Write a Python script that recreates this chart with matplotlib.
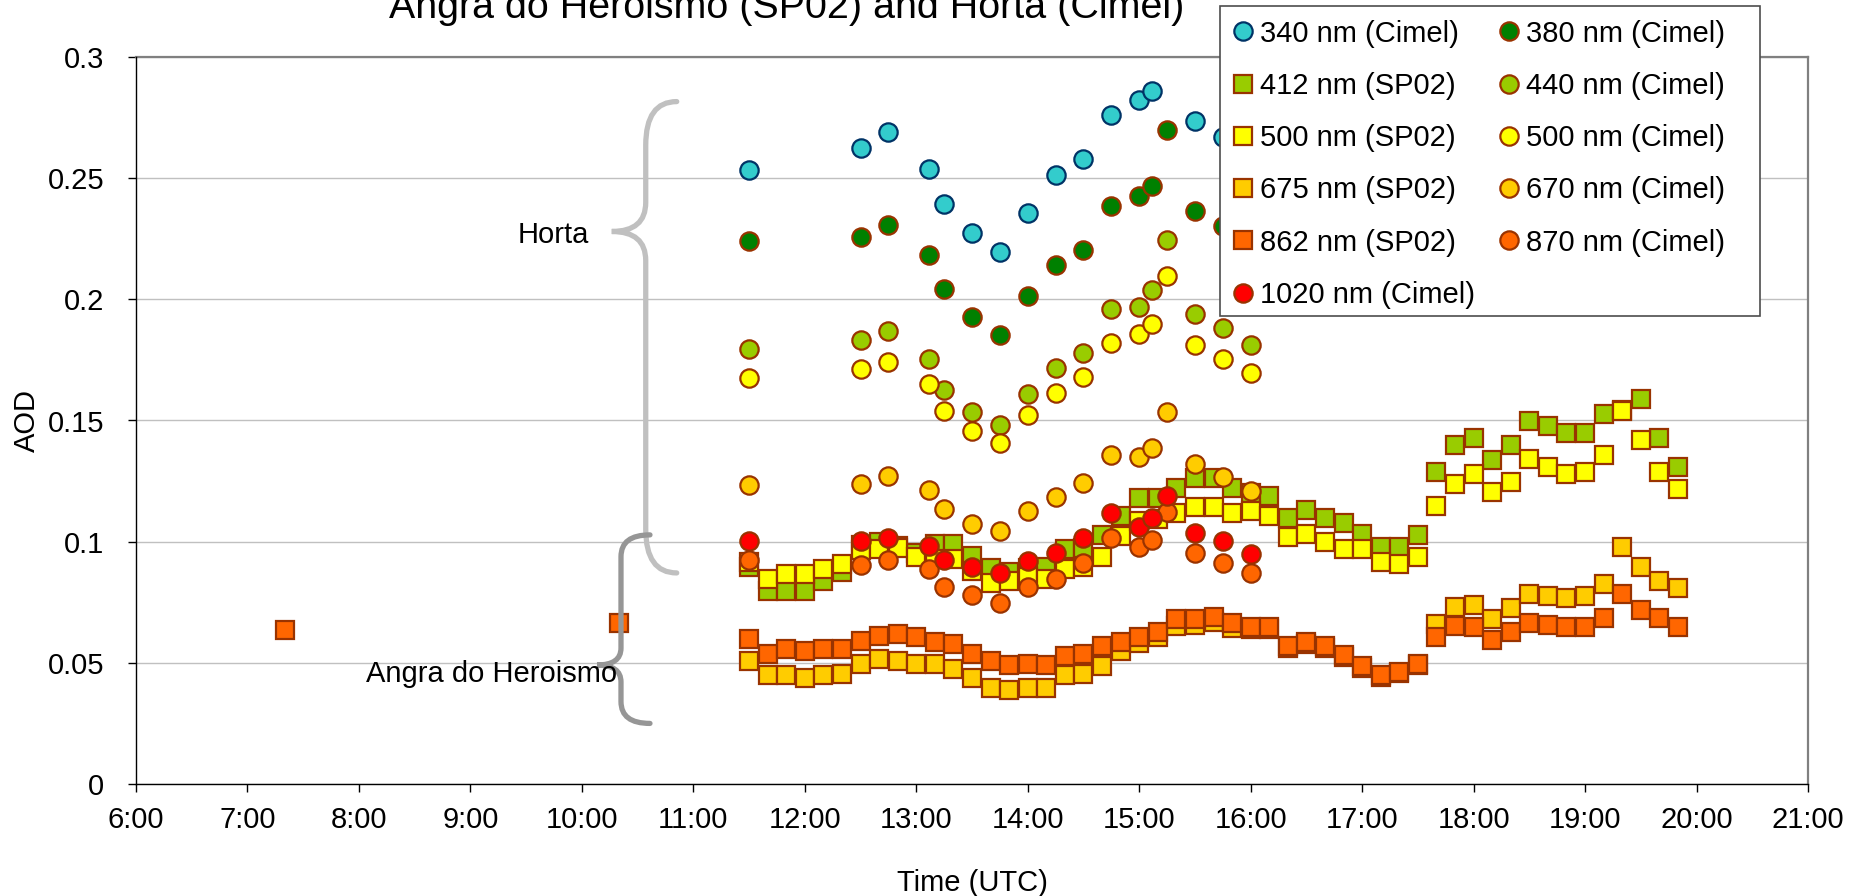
import numpy as np
import matplotlib.pyplot as plt
from matplotlib.path import Path
from matplotlib.patches import PathPatch, Rectangle

plt.rcParams['font.family'] = ['Liberation Sans', 'DejaVu Sans']

nan = np.nan

# Cimel (Horta) measurement times and AOD per wavelength
cimel_times = ["11:30", "12:30", "12:45", "13:07", "13:15", "13:30", "13:45", "14:00", "14:15",
               "14:30", "14:45", "15:00", "15:07", "15:15", "15:30", "15:45", "16:00"]
aod_340 = [0.2535, 0.2626, 0.2692, 0.2539, 0.2394, 0.2274, 0.2197, 0.2358, 0.2513,
           0.2578, 0.2761, 0.2823, 0.2861, nan, 0.2736, 0.2671, nan]
aod_380 = [0.2242, 0.2257, 0.2306, 0.2184, 0.2042, 0.1927, 0.1854, 0.2014, 0.2143,
           0.2204, 0.2387, 0.2428, 0.2469, 0.2699, 0.2365, 0.2304, nan]
aod_440 = [0.1795, 0.1831, 0.1869, 0.1753, 0.1626, 0.1534, 0.1482, 0.1610, 0.1716,
           0.1778, 0.1959, 0.1970, 0.2039, 0.2244, 0.1938, 0.1883, 0.1812]
aod_500c = [0.1674, 0.1714, 0.1740, 0.1649, 0.1539, 0.1456, 0.1406, 0.1522, 0.1615,
            0.1680, 0.1819, 0.1857, 0.1897, 0.2097, 0.1812, 0.1755, 0.1695]
aod_670 = [0.1234, 0.1238, 0.1271, 0.1212, 0.1134, 0.1073, 0.1045, 0.1127, 0.1186,
           0.1244, 0.1358, 0.1348, 0.1385, 0.1534, 0.1319, 0.1268, 0.1211]
aod_870 = [0.0924, 0.0904, 0.0924, 0.0886, 0.0814, 0.0779, 0.0748, 0.0812, 0.0845,
           0.0911, 0.1014, 0.0979, 0.1007, 0.1124, 0.0955, 0.0913, 0.0870]
aod_1020 = [0.1004, 0.1002, 0.1015, 0.0982, 0.0924, 0.0897, 0.0870, 0.0922, 0.0952,
            0.1014, 0.1117, 0.1062, 0.1096, 0.1189, 0.1035, 0.1004, 0.0949]

# SP02 (Angra do Heroismo) measurement times and AOD per wavelength
sp02_times = ["7:20", "10:20",
              "11:30", "11:40", "11:50", "12:00", "12:10", "12:20", "12:30", "12:40", "12:50",
              "13:00", "13:10", "13:20", "13:30", "13:40", "13:50", "14:00", "14:10", "14:20",
              "14:30", "14:40", "14:50", "15:00", "15:10", "15:20", "15:30", "15:40", "15:50",
              "16:00", "16:10", "16:20", "16:30", "16:40", "16:50", "17:00", "17:10", "17:20",
              "17:30", "17:40", "17:50", "18:00", "18:10", "18:20", "18:30", "18:40", "18:50",
              "19:00", "19:10", "19:20", "19:30", "19:40", "19:50"]
aod_412 = [nan, nan,
           0.0894, 0.0798, 0.0798, 0.0798, 0.0836, 0.0876, 0.0986, 0.0998, 0.0982,
           0.0954, 0.0989, 0.0989, 0.0941, 0.0893, 0.0875, 0.0893, 0.0896, 0.0969,
           0.0975, 0.1029, 0.1106, 0.1182, 0.1182, 0.1220, 0.1262, 0.1262, 0.1221,
           0.1200, 0.1189, 0.1096, 0.1129, 0.1099, 0.1078, 0.1030, 0.0979, 0.0979,
           0.1029, 0.1286, 0.1398, 0.1428, 0.1337, 0.1398, 0.1498, 0.1478, 0.1450,
           0.1450, 0.1528, 0.1545, 0.1588, 0.1427, 0.1308]
aod_500s = [nan, nan,
            0.0916, 0.0846, 0.0867, 0.0867, 0.0887, 0.0908, 0.0966, 0.0969, 0.0975,
            0.0938, 0.0927, 0.0927, 0.0879, 0.0831, 0.0838, 0.0856, 0.0846, 0.0887,
            0.0894, 0.0935, 0.1024, 0.1085, 0.1092, 0.1120, 0.1142, 0.1142, 0.1120,
            0.1128, 0.1107, 0.1018, 0.1030, 0.1000, 0.0969, 0.0969, 0.0915, 0.0908,
            0.0937, 0.1147, 0.1238, 0.1278, 0.1206, 0.1246, 0.1340, 0.1308, 0.1278,
            0.1286, 0.1356, 0.1539, 0.1418, 0.1286, 0.1219]
aod_675 = [nan, nan,
           0.0508, 0.0449, 0.0449, 0.0439, 0.0449, 0.0455, 0.0497, 0.0515, 0.0508,
           0.0497, 0.0497, 0.0476, 0.0436, 0.0398, 0.0387, 0.0398, 0.0398, 0.0449,
           0.0455, 0.0488, 0.0549, 0.0583, 0.0607, 0.0652, 0.0655, 0.0670, 0.0645,
           0.0640, 0.0640, 0.0560, 0.0578, 0.0560, 0.0525, 0.0480, 0.0443, 0.0456,
           0.0492, 0.0659, 0.0729, 0.0737, 0.0680, 0.0728, 0.0785, 0.0776, 0.0769,
           0.0776, 0.0827, 0.0978, 0.0896, 0.0838, 0.0808]
aod_862 = [0.0636, 0.0666,
           0.0598, 0.0535, 0.0558, 0.0549, 0.0558, 0.0558, 0.0590, 0.0609, 0.0618,
           0.0607, 0.0587, 0.0579, 0.0536, 0.0508, 0.0490, 0.0497, 0.0490, 0.0528,
           0.0538, 0.0568, 0.0587, 0.0607, 0.0627, 0.0680, 0.0680, 0.0689, 0.0666,
           0.0648, 0.0648, 0.0568, 0.0586, 0.0568, 0.0531, 0.0486, 0.0449, 0.0462,
           0.0497, 0.0608, 0.0653, 0.0648, 0.0596, 0.0627, 0.0666, 0.0656, 0.0648,
           0.0648, 0.0686, 0.0785, 0.0717, 0.0686, 0.0648]

hour_ticks = list(range(6, 22))
hour_labels = ["%d:00" % h for h in hour_ticks]
aod_ticks = [0, 0.05, 0.1, 0.15, 0.2, 0.25, 0.3]
aod_labels = ["0", "0.05", "0.1", "0.15", "0.2", "0.25", "0.3"]


def to_hours(t):
    h, m = t.split(":")
    return int(h) + int(m) / 60.0


xc = [to_hours(t) for t in cimel_times]
xs = [to_hours(t) for t in sp02_times]

brown = '#993300'
# series in Excel order: (label, x, y, marker, face, edge)
series = [
    ("340 nm (Cimel)", xc, aod_340, 'o', '#33CCCC', '#003366'),
    ("380 nm (Cimel)", xc, aod_380, 'o', '#008000', brown),
    ("412 nm (SP02)", xs, aod_412, 's', '#99CC00', brown),
    ("440 nm (Cimel)", xc, aod_440, 'o', '#99CC00', brown),
    ("500 nm (SP02)", xs, aod_500s, 's', '#FFFF00', brown),
    ("500 nm (Cimel)", xc, aod_500c, 'o', '#FFFF00', brown),
    ("675 nm (SP02)", xs, aod_675, 's', '#FFCC00', brown),
    ("670 nm (Cimel)", xc, aod_670, 'o', '#FFCC00', brown),
    ("862 nm (SP02)", xs, aod_862, 's', '#FF6600', brown),
    ("870 nm (Cimel)", xc, aod_870, 'o', '#FF6600', brown),
    ("1020 nm (Cimel)", xc, aod_1020, 'o', '#FF0000', brown),
]

fig = plt.figure(figsize=(18.54, 8.96), dpi=100)
ax = fig.add_axes([136 / 1854, 1 - 784 / 896, (1808 - 136) / 1854, (784 - 57) / 896])

handles = []
for k, (lab, x, y, mk, fc, ec) in enumerate(series):
    ms = 13.2 if mk == 'o' else 12.4
    h, = ax.plot(x, y, linestyle='none', marker=mk, markersize=ms, markerfacecolor=fc,
                 markeredgecolor=ec, markeredgewidth=1.6, label=lab, zorder=3 + k * 0.01)
    handles.append(h)

ax.set_xlim(6, 21)
ax.set_ylim(0, 0.3)
ax.set_xticks(hour_ticks)
ax.set_xticklabels(hour_labels)
ax.set_yticks(aod_ticks)
ax.set_yticklabels(aod_labels)
ax.tick_params(axis='both', labelsize=21, direction='out', length=6, width=1, color='black')
ax.tick_params(axis='y', pad=17)
ax.tick_params(axis='x', pad=10)
ax.grid(axis='y', color='#C0C0C0', linewidth=1)
ax.set_axisbelow(True)
for s in ['top', 'right']:
    ax.spines[s].set_color('#808080')
    ax.spines[s].set_linewidth(1.6)
for s in ['left', 'bottom']:
    ax.spines[s].set_color('black')
    ax.spines[s].set_linewidth(1)
    ax.spines[s].set_zorder(5)

ax.set_xlabel("Time (UTC)", fontsize=21, labelpad=25)
ax.set_ylabel("AOD", fontsize=21, labelpad=5)

# title, partly hidden under the legend
ax.text(787 / 1854, 1 - 18 / 896, "Angra do Heroismo (SP02) and Horta (Cimel)", fontsize=28.4,
        ha='center', va='baseline', transform=fig.transFigure, clip_on=False, zorder=1)


def brace(x_end, x_spine, x_tip, y_top, y_mid, y_bot, ry, rt, color):
    verts = [(x_end, y_top),
             (x_spine, y_top), (x_spine, y_top - ry),
             (x_spine, y_mid + rt),
             (x_spine, y_mid), (x_tip, y_mid),
             (x_spine, y_mid), (x_spine, y_mid - rt),
             (x_spine, y_bot + ry),
             (x_spine, y_bot), (x_end, y_bot)]
    codes = [Path.MOVETO, Path.CURVE3, Path.CURVE3, Path.LINETO, Path.CURVE3, Path.CURVE3,
             Path.CURVE3, Path.CURVE3, Path.LINETO, Path.CURVE3, Path.CURVE3]
    ax.add_patch(PathPatch(Path(verts, codes), facecolor='none', edgecolor=color, linewidth=3.8,
                           capstyle='round', zorder=6, clip_on=False))


brace(10.851, 10.573, 10.268, 0.2816, 0.228, 0.0871, 0.018, 0.012, '#C0C0C0')
brace(10.611, 10.351, 10.136, 0.1028, 0.0491, 0.0250, 0.009, 0.007, '#969696')
ax.text(10.067, 0.2231, "Horta", fontsize=21, ha='right', va='baseline', zorder=7)
ax.text(10.312, 0.0422, "Angra do Heroismo", fontsize=21, ha='right', va='baseline', zorder=7)

# legend box drawn separately so it matches the Excel frame
ax.add_patch(Rectangle((1220 / 1854, 1 - 316 / 896), 540 / 1854, 310 / 896,
                       transform=fig.transFigure, facecolor='white', edgecolor='#4d4d4d',
                       linewidth=1.2, clip_on=False, zorder=9))

# Excel-style legend: filled row by row
order = handles[0::2] + handles[1::2]
leg = ax.legend(handles=order, labels=[h.get_label() for h in order], ncol=2, fontsize=21,
                loc='upper left', bbox_to_anchor=(1220 / 1854, 1 - 6 / 896),
                bbox_transform=fig.transFigure, frameon=False,
                borderpad=0.47, labelspacing=0.83, handlelength=0.64, handletextpad=0.27,
                columnspacing=0.83, borderaxespad=0, markerscale=1.0)
leg.set_zorder(10)

fig.savefig("out.png", dpi=100)
